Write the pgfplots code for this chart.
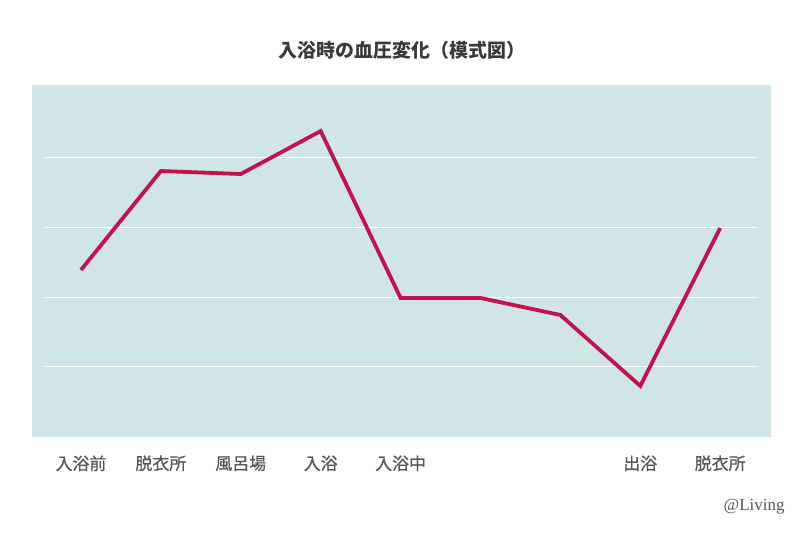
\documentclass[border=0pt]{standalone}
\usepackage{pgfplots}
\pgfplotsset{compat=1.18}
\usepackage{fontspec}
\newfontfamily\cjk{Noto Sans CJK JP}
\newfontfamily\cjkm[FakeBold=0.6]{Noto Sans CJK JP}
\newfontfamily\wm{Liberation Serif}
\definecolor{panel}{HTML}{D0E6E6}
\definecolor{lineC}{HTML}{C2134B}
\definecolor{txt}{HTML}{555555}
\definecolor{ttl}{HTML}{3A3A3A}
\begin{document}
\begin{tikzpicture}[x=1bp,y=1bp]
\path[use as bounding box] (0,0) rectangle (800,533);
\begin{axis}[
  at={(32bp,96bp)}, anchor=south west,
  scale only axis, width=739bp, height=352bp,
  xmin=-0.613, xmax=8.636, ymin=0, ymax=5.029,
  axis line style={draw=none},
  axis background/.style={fill=panel},
  xtick={0,...,8},
  xticklabels={入浴前,脱衣所,風呂場,入浴,入浴中,,,出浴,脱衣所},
  xticklabel style={font=\cjkm\fontsize{17}{19}\selectfont, text=txt, yshift=-15bp},
  major tick length=0pt,
  ytick=\empty,
  clip=false,
]
\foreach \g in {1,2,3,3.986}{
  \edef\tmp{\noexpand\draw[white, line width=1bp] (axis cs:-0.45,\g) -- (axis cs:8.46,\g);}
  \tmp
}
\addplot[lineC, line width=3.8bp, line join=miter, mark=none] coordinates {
(0,2.386) (1,3.800) (2,3.757) (3,4.371) (4,1.986) (5,1.986) (6,1.743) (7,0.729) (8,2.986)
};
\end{axis}
\node[font=\cjk\bfseries\fontsize{19}{22}\selectfont, text=ttl] at (402,483) {入浴時の血圧変化（模式図）};
\node[font=\wm\fontsize{17}{19}\selectfont, text=txt, anchor=east] at (788,26) {@Living};
\end{tikzpicture}
\end{document}
